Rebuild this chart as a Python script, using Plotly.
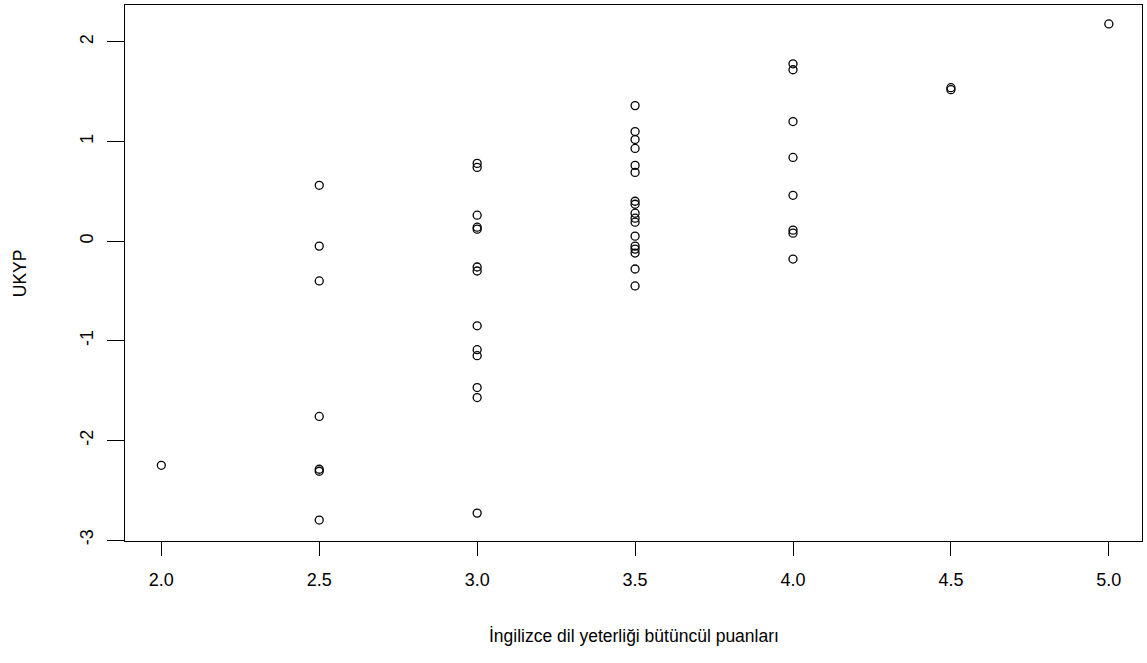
import plotly.graph_objects as go

# Data
x_20 = [2.0]
y_20 = [-2.25]
y_25 = [0.56, -0.05, -0.40, -1.76, -2.29, -2.31, -2.80]
x_25 = [2.5] * len(y_25)
y_30 = [0.78, 0.74, 0.26, 0.14, 0.12, -0.26, -0.30, -0.85, -1.09, -1.15, -1.47, -1.57, -2.73]
x_30 = [3.0] * len(y_30)
y_35 = [1.36, 1.10, 1.02, 0.93, 0.76, 0.69, 0.40, 0.37, 0.28, 0.23, 0.19,
        0.05, -0.05, -0.08, -0.12, -0.28, -0.45]
x_35 = [3.5] * len(y_35)
y_40 = [1.78, 1.72, 1.20, 0.84, 0.46, 0.11, 0.08, -0.18]
x_40 = [4.0] * len(y_40)
y_45 = [1.54, 1.52]
x_45 = [4.5] * len(y_45)
y_50 = [2.18]
x_50 = [5.0]

xs = x_20 + x_25 + x_30 + x_35 + x_40 + x_45 + x_50
ys = y_20 + y_25 + y_30 + y_35 + y_40 + y_45 + y_50

x_ticks = [2.0, 2.5, 3.0, 3.5, 4.0, 4.5, 5.0]
x_tick_labels = ["2.0", "2.5", "3.0", "3.5", "4.0", "4.5", "5.0"]
y_ticks = [-3, -2, -1, 0, 1, 2]
y_tick_labels = ["-3", "-2", "-1", "0", "1", "2"]

x_title = "İngilizce dil yeterliği bütüncül puanları"
y_title = "UKYP"

FONT = "Liberation Sans, Arial, sans-serif"

fig = go.Figure(
    go.Scatter(
        x=xs, y=ys, mode="markers",
        marker=dict(symbol="circle-open", size=8, color="black",
                    line=dict(width=1.3, color="black")),
        hoverinfo="x+y",
    )
)

fig.update_layout(
    width=1147, height=663,
    margin=dict(l=125, r=5, t=5, b=122),
    paper_bgcolor="white", plot_bgcolor="white",
    showlegend=False,
    font=dict(family=FONT, size=17, color="black"),
    xaxis=dict(
        range=[1.885, 5.105], tickvals=x_ticks, ticktext=x_tick_labels,
        showgrid=False, zeroline=False, showline=True, linecolor="black",
        linewidth=1, mirror=True, ticks="outside", ticklen=14,
        tickcolor="black", tickwidth=1, ticklabelstandoff=8,
        tickfont=dict(family=FONT, size=18, color="black"),
    ),
    yaxis=dict(
        range=[-3.01, 2.37], tickvals=y_ticks, ticktext=y_tick_labels,
        showgrid=False, zeroline=False, showline=True, linecolor="black",
        linewidth=1, mirror=True, ticks="outside", ticklen=17,
        tickcolor="black", tickwidth=1, tickangle=-90, ticklabelstandoff=7,
        tickfont=dict(family=FONT, size=18, color="black"),
    ),
    annotations=[
        dict(text=x_title, xref="paper", yref="paper", x=0.5, y=-0.177,
             xanchor="center", yanchor="middle", showarrow=False,
             font=dict(family=FONT, size=17.5, color="black")),
        dict(text=y_title, xref="paper", yref="paper", x=-0.103, y=0.5,
             xanchor="center", yanchor="middle", showarrow=False, textangle=-90,
             font=dict(family=FONT, size=17.5, color="black")),
    ],
)

fig.write_html(
    "out.html",
    config={"displayModeBar": False},
    post_script="document.body.style.margin='0';document.body.style.padding='0';",
)
